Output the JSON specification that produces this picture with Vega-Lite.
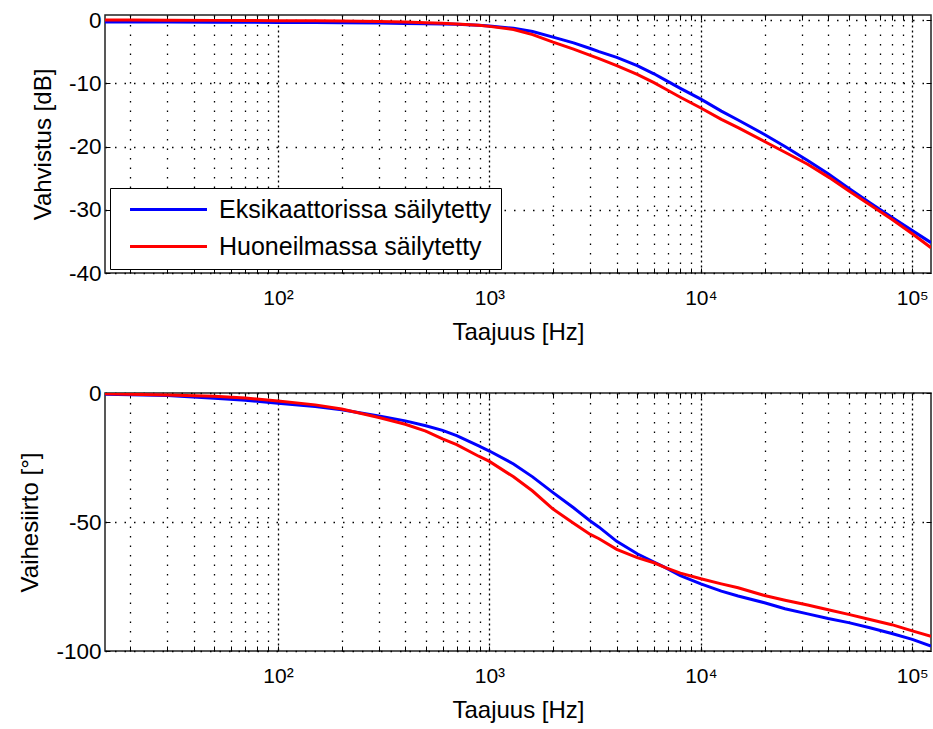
{
  "$schema": "https://vega.github.io/schema/vega-lite/v6.json",
  "autosize": {"type": "pad"},
  "bounds": "flush",
  "padding": {"left": 18, "top": 8, "right": 0, "bottom": 5},
  "spacing": 120,
  "background": "white",
  "datasets": {
    "d": [
      {"f": 15.2, "s": "Eksikaattorissa säilytetty", "g": -0.3, "p": -0.5},
      {"f": 20, "s": "Eksikaattorissa säilytetty", "g": -0.3, "p": -0.7},
      {"f": 30, "s": "Eksikaattorissa säilytetty", "g": -0.3, "p": -1.0},
      {"f": 50, "s": "Eksikaattorissa säilytetty", "g": -0.33, "p": -2.0},
      {"f": 70, "s": "Eksikaattorissa säilytetty", "g": -0.35, "p": -2.8},
      {"f": 100, "s": "Eksikaattorissa säilytetty", "g": -0.38, "p": -4.0},
      {"f": 150, "s": "Eksikaattorissa säilytetty", "g": -0.4, "p": -5.2},
      {"f": 200, "s": "Eksikaattorissa säilytetty", "g": -0.43, "p": -6.5},
      {"f": 300, "s": "Eksikaattorissa säilytetty", "g": -0.48, "p": -8.9},
      {"f": 400, "s": "Eksikaattorissa säilytetty", "g": -0.53, "p": -10.8},
      {"f": 500, "s": "Eksikaattorissa säilytetty", "g": -0.58, "p": -12.7},
      {"f": 600, "s": "Eksikaattorissa säilytetty", "g": -0.63, "p": -14.5},
      {"f": 700, "s": "Eksikaattorissa säilytetty", "g": -0.68, "p": -16.5},
      {"f": 890, "s": "Eksikaattorissa säilytetty", "g": -0.83, "p": -20.5},
      {"f": 1000, "s": "Eksikaattorissa säilytetty", "g": -0.93, "p": -22.5},
      {"f": 1300, "s": "Eksikaattorissa säilytetty", "g": -1.3, "p": -27.5},
      {"f": 1600, "s": "Eksikaattorissa säilytetty", "g": -1.8, "p": -32.5},
      {"f": 2000, "s": "Eksikaattorissa säilytetty", "g": -2.7, "p": -38.6},
      {"f": 2500, "s": "Eksikaattorissa säilytetty", "g": -3.6, "p": -44.5},
      {"f": 3000, "s": "Eksikaattorissa säilytetty", "g": -4.5, "p": -49.6},
      {"f": 3300, "s": "Eksikaattorissa säilytetty", "g": -5.0, "p": -52.0},
      {"f": 4000, "s": "Eksikaattorissa säilytetty", "g": -5.9, "p": -57.5},
      {"f": 5000, "s": "Eksikaattorissa säilytetty", "g": -7.2, "p": -62.3},
      {"f": 6000, "s": "Eksikaattorissa säilytetty", "g": -8.5, "p": -65.5},
      {"f": 6800, "s": "Eksikaattorissa säilytetty", "g": -9.5, "p": -67.7},
      {"f": 8000, "s": "Eksikaattorissa säilytetty", "g": -10.8, "p": -70.8},
      {"f": 10000, "s": "Eksikaattorissa säilytetty", "g": -12.5, "p": -74.0},
      {"f": 12500, "s": "Eksikaattorissa säilytetty", "g": -14.4, "p": -76.8},
      {"f": 15000, "s": "Eksikaattorissa säilytetty", "g": -15.8, "p": -78.7},
      {"f": 20000, "s": "Eksikaattorissa säilytetty", "g": -18.1, "p": -81.3},
      {"f": 25000, "s": "Eksikaattorissa säilytetty", "g": -20.0, "p": -83.6},
      {"f": 32000, "s": "Eksikaattorissa säilytetty", "g": -22.2, "p": -85.6},
      {"f": 40000, "s": "Eksikaattorissa säilytetty", "g": -24.3, "p": -87.4},
      {"f": 50000, "s": "Eksikaattorissa säilytetty", "g": -26.6, "p": -89.0},
      {"f": 63000, "s": "Eksikaattorissa säilytetty", "g": -28.9, "p": -91.0},
      {"f": 80000, "s": "Eksikaattorissa säilytetty", "g": -31.2, "p": -93.2},
      {"f": 100000, "s": "Eksikaattorissa säilytetty", "g": -33.3, "p": -95.5},
      {"f": 122600, "s": "Eksikaattorissa säilytetty", "g": -35.2, "p": -98.1},
      {"f": 15.2, "s": "Huoneilmassa säilytetty", "g": 0.0, "p": -0.3},
      {"f": 20, "s": "Huoneilmassa säilytetty", "g": 0.0, "p": -0.5},
      {"f": 30, "s": "Huoneilmassa säilytetty", "g": -0.02, "p": -0.8},
      {"f": 50, "s": "Huoneilmassa säilytetty", "g": -0.05, "p": -1.3},
      {"f": 70, "s": "Huoneilmassa säilytetty", "g": -0.07, "p": -1.9},
      {"f": 100, "s": "Huoneilmassa säilytetty", "g": -0.1, "p": -3.1},
      {"f": 150, "s": "Huoneilmassa säilytetty", "g": -0.12, "p": -4.6},
      {"f": 200, "s": "Huoneilmassa säilytetty", "g": -0.15, "p": -6.2},
      {"f": 300, "s": "Huoneilmassa säilytetty", "g": -0.22, "p": -9.5},
      {"f": 400, "s": "Huoneilmassa säilytetty", "g": -0.32, "p": -12.1},
      {"f": 500, "s": "Huoneilmassa säilytetty", "g": -0.42, "p": -14.8},
      {"f": 600, "s": "Huoneilmassa säilytetty", "g": -0.52, "p": -17.8},
      {"f": 700, "s": "Huoneilmassa säilytetty", "g": -0.62, "p": -20.0},
      {"f": 890, "s": "Huoneilmassa säilytetty", "g": -0.83, "p": -24.5},
      {"f": 1000, "s": "Huoneilmassa säilytetty", "g": -1.0, "p": -26.5},
      {"f": 1300, "s": "Huoneilmassa säilytetty", "g": -1.5, "p": -32.5},
      {"f": 1600, "s": "Huoneilmassa säilytetty", "g": -2.3, "p": -38.0},
      {"f": 2000, "s": "Huoneilmassa säilytetty", "g": -3.5, "p": -45.0},
      {"f": 2500, "s": "Huoneilmassa säilytetty", "g": -4.6, "p": -50.5},
      {"f": 3000, "s": "Huoneilmassa säilytetty", "g": -5.6, "p": -54.8},
      {"f": 3300, "s": "Huoneilmassa säilytetty", "g": -6.1, "p": -56.5},
      {"f": 4000, "s": "Huoneilmassa säilytetty", "g": -7.2, "p": -60.6},
      {"f": 5000, "s": "Huoneilmassa säilytetty", "g": -8.6, "p": -63.8},
      {"f": 6000, "s": "Huoneilmassa säilytetty", "g": -9.9, "p": -65.8},
      {"f": 6800, "s": "Huoneilmassa säilytetty", "g": -10.9, "p": -67.7},
      {"f": 8000, "s": "Huoneilmassa säilytetty", "g": -12.2, "p": -69.8},
      {"f": 10000, "s": "Huoneilmassa säilytetty", "g": -13.9, "p": -72.0},
      {"f": 12500, "s": "Huoneilmassa säilytetty", "g": -15.7, "p": -74.0},
      {"f": 15000, "s": "Huoneilmassa säilytetty", "g": -17.0, "p": -75.5},
      {"f": 20000, "s": "Huoneilmassa säilytetty", "g": -19.2, "p": -78.5},
      {"f": 25000, "s": "Huoneilmassa säilytetty", "g": -20.9, "p": -80.3},
      {"f": 32000, "s": "Huoneilmassa säilytetty", "g": -22.8, "p": -82.2},
      {"f": 40000, "s": "Huoneilmassa säilytetty", "g": -24.8, "p": -84.0},
      {"f": 50000, "s": "Huoneilmassa säilytetty", "g": -27.0, "p": -85.8},
      {"f": 63000, "s": "Huoneilmassa säilytetty", "g": -29.2, "p": -87.8},
      {"f": 80000, "s": "Huoneilmassa säilytetty", "g": -31.5, "p": -89.8},
      {"f": 100000, "s": "Huoneilmassa säilytetty", "g": -33.8, "p": -92.2},
      {"f": 122600, "s": "Huoneilmassa säilytetty", "g": -36.0, "p": -94.3}
    ]
  },
  "resolve": {"scale": {"color": "independent"}, "legend": {"color": "independent"}},
  "vconcat": [
    {
      "width": 826,
      "height": 258,
      "data": {"name": "d"},
      "resolve": {"axis": {"x": "independent", "y": "independent"}},
      "layer": [
        {
          "mark": {"type": "line", "strokeWidth": 3, "clip": true},
          "encoding": {
            "x": {
              "field": "f", "type": "quantitative",
              "scale": {"type": "log", "domain": [15.2, 122600], "nice": false},
              "axis": {
                "orient": "bottom",
                "values": [20,30,40,50,60,70,80,90,100,200,300,400,500,600,700,800,900,1000,2000,3000,4000,5000,6000,7000,8000,9000,10000,20000,30000,40000,50000,60000,70000,80000,90000,100000],
                "labelExpr": "datum.value==100?'10²':datum.value==1000?'10³':datum.value==10000?'10⁴':datum.value==100000?'10⁵':''",
                "labelOverlap": false,
                "labelFlush": false,
                "labelPadding": 19,
                "gridDash": {"condition": {"test": "datum.value==100||datum.value==1000||datum.value==10000||datum.value==100000", "value": [2, 3]}, "value": [1.5, 8]},
                "title": "Taajuus [Hz]",
                "titlePadding": 12
              }
            },
            "y": {
              "field": "g", "type": "quantitative",
              "scale": {"domain": [-40, 0.8], "nice": false, "zero": false},
              "axis": {
                "orient": "left",
                "values": [-40, -30, -20, -10, 0],
                "labelExpr": "toString(datum.value)",
                "labelFontSize": 22.5,
                "labelPadding": 9,
                "gridDash": [1.5, 8],
                "title": "Vahvistus [dB]",
                "titlePadding": 13
              }
            },
            "color": {
              "field": "s", "type": "nominal",
              "scale": {"domain": ["Eksikaattorissa säilytetty", "Huoneilmassa säilytetty"], "range": ["#0000ff", "#ff0000"]},
              "legend": {
                "title": null,
                "orient": "none",
                "legendX": 5,
                "legendY": 173,
                "direction": "vertical",
                "padding": 9,
                "strokeColor": "#000",
                "fillColor": "#ffffff",
                "symbolType": "M-5,0H5",
                "symbolSize": 237,
                "symbolStrokeWidth": 3,
                "symbolOffset": 37,
                "labelOffset": 38,
                "labelFont": "Liberation Sans",
                "labelFontSize": 25,
                "labelColor": "#000",
                "labelLimit": 400,
                "rowPadding": 11
              }
            }
          }
        },
        {
          "mark": {"type": "line", "strokeOpacity": 0, "clip": true},
          "encoding": {
            "x": {
              "field": "f", "type": "quantitative",
              "scale": {"type": "log", "domain": [15.2, 122600], "nice": false},
              "axis": {"orient": "top", "labels": false, "grid": false, "title": null,
                "values": [20,30,40,50,60,70,80,90,100,200,300,400,500,600,700,800,900,1000,2000,3000,4000,5000,6000,7000,8000,9000,10000,20000,30000,40000,50000,60000,70000,80000,90000,100000]}
            },
            "y": {
              "field": "g", "type": "quantitative",
              "scale": {"domain": [-40, 0.8], "nice": false, "zero": false},
              "axis": {"orient": "right", "labels": false, "grid": false, "title": null, "values": [-40, -30, -20, -10, 0]}
            },
            "detail": {"field": "s"}
          }
        }
      ]
    },
    {
      "width": 826,
      "height": 258,
      "data": {"name": "d"},
      "resolve": {"axis": {"x": "independent", "y": "independent"}},
      "layer": [
        {
          "mark": {"type": "line", "strokeWidth": 3, "clip": true},
          "encoding": {
            "x": {
              "field": "f", "type": "quantitative",
              "scale": {"type": "log", "domain": [15.2, 122600], "nice": false},
              "axis": {
                "orient": "bottom",
                "values": [20,30,40,50,60,70,80,90,100,200,300,400,500,600,700,800,900,1000,2000,3000,4000,5000,6000,7000,8000,9000,10000,20000,30000,40000,50000,60000,70000,80000,90000,100000],
                "labelExpr": "datum.value==100?'10²':datum.value==1000?'10³':datum.value==10000?'10⁴':datum.value==100000?'10⁵':''",
                "labelOverlap": false,
                "labelFlush": false,
                "labelPadding": 19,
                "gridDash": {"condition": {"test": "datum.value==100||datum.value==1000||datum.value==10000||datum.value==100000", "value": [2, 3]}, "value": [1.5, 8]},
                "title": "Taajuus [Hz]",
                "titlePadding": 12
              }
            },
            "y": {
              "field": "p", "type": "quantitative",
              "scale": {"domain": [-100, 0], "nice": false, "zero": false},
              "axis": {
                "orient": "left",
                "values": [-100, -50, 0],
                "labelExpr": "toString(datum.value)",
                "labelFontSize": 22.5,
                "labelPadding": 9,
                "gridDash": [1.5, 8],
                "title": "Vaihesiirto [°]",
                "titlePadding": 13
              }
            },
            "color": {
              "field": "s", "type": "nominal",
              "scale": {"domain": ["Eksikaattorissa säilytetty", "Huoneilmassa säilytetty"], "range": ["#0000ff", "#ff0000"]},
              "legend": null
            }
          }
        },
        {
          "mark": {"type": "line", "strokeOpacity": 0, "clip": true},
          "encoding": {
            "x": {
              "field": "f", "type": "quantitative",
              "scale": {"type": "log", "domain": [15.2, 122600], "nice": false},
              "axis": {"orient": "top", "labels": false, "grid": false, "title": null,
                "values": [20,30,40,50,60,70,80,90,100,200,300,400,500,600,700,800,900,1000,2000,3000,4000,5000,6000,7000,8000,9000,10000,20000,30000,40000,50000,60000,70000,80000,90000,100000]}
            },
            "y": {
              "field": "p", "type": "quantitative",
              "scale": {"domain": [-100, 0], "nice": false, "zero": false},
              "axis": {"orient": "right", "labels": false, "grid": false, "title": null, "values": [-100, -50, 0]}
            },
            "detail": {"field": "s"}
          }
        }
      ]
    }
  ],
  "config": {
    "font": "Liberation Sans",
    "view": {"stroke": "#222", "strokeWidth": 1.5},
    "axis": {
      "labelFont": "Liberation Sans",
      "titleFont": "Liberation Sans",
      "labelFontSize": 21,
      "titleFontSize": 24,
      "titleFontWeight": "normal",
      "labelColor": "#000",
      "titleColor": "#000",
      "domain": false,
      "ticks": true,
      "tickColor": "#000",
      "tickSize": -5,
      "tickWidth": 1,
      "gridColor": "#000",
      "gridOpacity": 1,
      "gridWidth": 1.3
    }
  }
}
